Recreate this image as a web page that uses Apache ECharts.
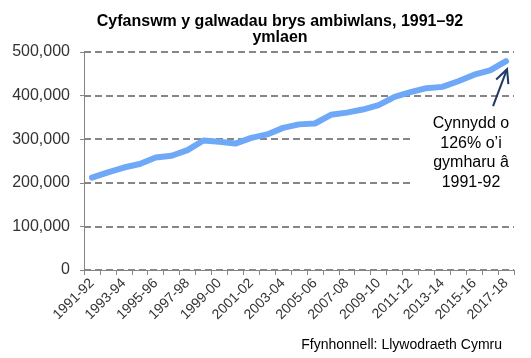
<!DOCTYPE html>
<html>
<head>
<meta charset="utf-8">
<script src="https://cdn.jsdelivr.net/npm/echarts@6/dist/echarts.min.js"></script>
<style>html,body{margin:0;padding:0;background:#fff}#c{width:531px;height:358px}</style>
</head>
<body>
<div id="c"></div>
<script>
const categories = ['1991-92','1992-93','1993-94','1994-95','1995-96','1996-97','1997-98','1998-99','1999-00','2000-01','2001-02','2002-03','2003-04','2004-05','2005-06','2006-07','2007-08','2008-09','2009-10','2010-11','2011-12','2012-13','2013-14','2014-15','2015-16','2016-17','2017-18'];
const calls = [212000,224000,235000,243000,258000,262000,275000,297000,294000,290000,303000,311000,326000,334000,336000,356000,361000,368000,378000,397000,408000,417000,420000,433000,448000,458000,479000];
const yTicks = [0,100000,200000,300000,400000,500000];
const titleText = 'Cyfanswm y galwadau brys ambiwlans, 1991–92\nymlaen';
const noteText = 'Cynnydd o\n126% o’i\ngymharu â\n1991-92';
const sourceText = 'Ffynhonnell: Llywodraeth Cymru';

const chart = echarts.init(document.getElementById('c'), null, {renderer: 'canvas'});
const font = 'Liberation Sans, Arial, sans-serif';
chart.setOption({
  animation: false,
  backgroundColor: '#fff',
  title: {
    text: titleText, left: 275, top: 9, textAlign: 'center',
    textStyle: {fontFamily: font, fontSize: 16, fontWeight: 'bold', color: '#000', lineHeight: 15.5}
  },
  grid: {left: 84, right: 17, top: 52, bottom: 88, containLabel: false},
  xAxis: {
    type: 'category', data: categories, boundaryGap: true,
    axisLine: {lineStyle: {color: '#868686', width: 1}},
    axisTick: {show: true, interval: 0, length: 5, lineStyle: {color: '#868686'}},
    axisLabel: {interval: 1, rotate: 45, fontFamily: font, fontSize: 14, color: '#333', margin: 11}
  },
  yAxis: {
    type: 'value', min: yTicks[0], max: yTicks[yTicks.length-1], interval: yTicks[1]-yTicks[0],
    axisLine: {show: true, lineStyle: {color: '#868686', width: 1}},
    axisTick: {show: true, length: 4, lineStyle: {color: '#868686'}},
    axisLabel: {fontFamily: font, fontSize: 16, color: '#333', margin: 14,
      formatter: v => v.toLocaleString('en-GB')},
    splitLine: {show: true, lineStyle: {color: '#5f5f5f', width: 1.5, type: [7, 4]}}
  },
  series: [{
    type: 'line', data: calls, symbol: 'none', smooth: false,
    lineStyle: {color: '#6ea8f7', width: 6, cap: 'round', join: 'round'}, z: 3
  }]
});

const tip = chart.convertToPixel({seriesIndex: 0}, [categories.length - 1, calls[calls.length - 1]]);
const tx = tip[0] + 1, ty = tip[1] + 8;
const bx = tx - 14, by = ty + 37;
const ang = Math.atan2(ty - by, tx - bx);
const hl = 15, ha = 0.45;
const w1 = [tx - hl * Math.cos(ang - ha), ty - hl * Math.sin(ang - ha)];
const w2 = [tx - hl * Math.cos(ang + ha), ty - hl * Math.sin(ang + ha)];
chart.setOption({
  graphic: [
    {type: 'rect', z: 100, shape: {x: 413, y: 108, width: 118, height: 88}, style: {fill: '#fff'}},
    {type: 'text', z: 101, x: 471, y: 114, style: {text: noteText, font: '16px ' + font, fill: '#000', align: 'center', verticalAlign: 'top', lineHeight: 19.5}},
    {type: 'line', z: 102, shape: {x1: bx, y1: by, x2: tx, y2: ty}, style: {stroke: '#1f3864', lineWidth: 2}},
    {type: 'polyline', z: 102, shape: {points: [w1, [tx, ty], w2]}, style: {stroke: '#1f3864', lineWidth: 2, fill: null}},
    {type: 'text', z: 101, x: 502, y: 345, style: {text: sourceText, font: '14px ' + font, fill: '#000', align: 'right', verticalAlign: 'middle'}}
  ]
});
</script>
</body>
</html>
